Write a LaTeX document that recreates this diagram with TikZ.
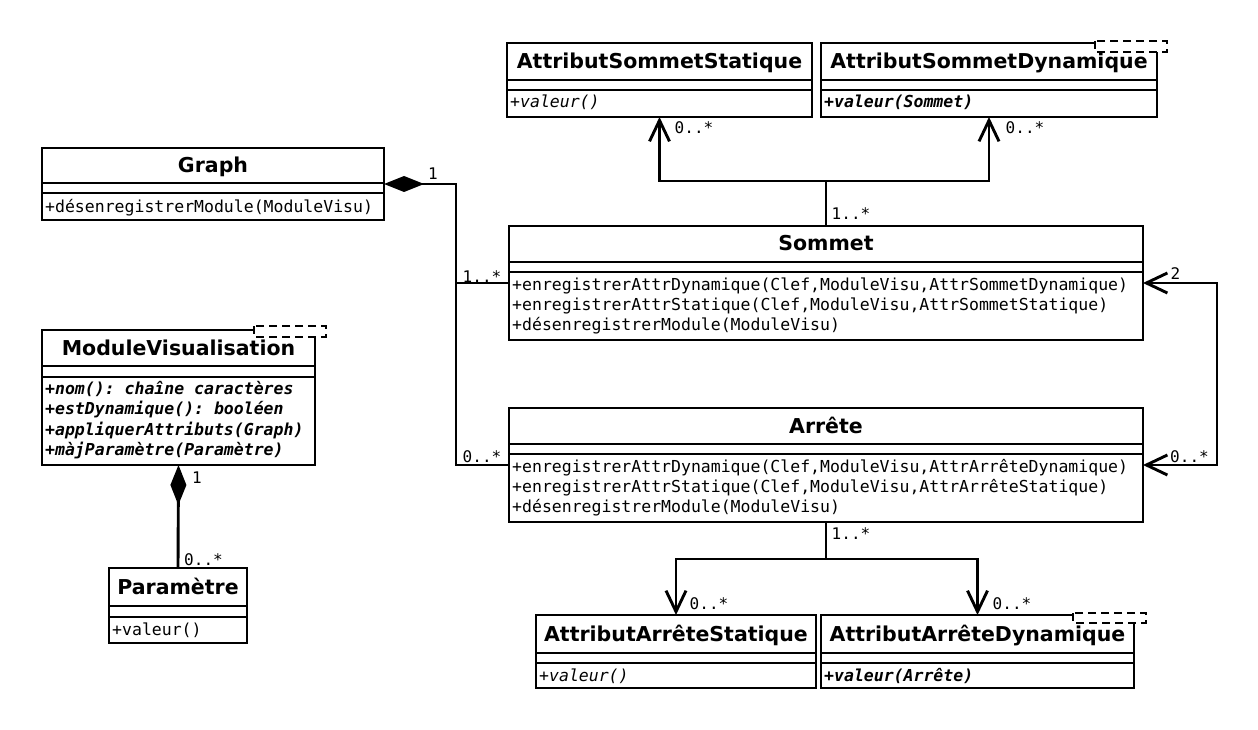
\documentclass[tikz,border=0pt]{standalone}
\usepackage{fontspec}
\setmainfont{DejaVu Sans}
\setmonofont{DejaVu Sans Mono}
\usetikzlibrary{arrows.meta}

\tikzset{
  box/.style={draw, line width=2.9pt, inner sep=0pt, outer sep=0pt, anchor=north west, fill=white},
  sepline/.style={line width=2.9pt},
  tabbox/.style={draw, fill=white, line width=2.7pt, dash pattern=on 8pt off 5pt},
  ttl/.style={font=\fontsize{20.5}{24}\selectfont\bfseries, anchor=base, inner sep=0pt},
  meth/.style={font=\fontsize{16.5}{20}\selectfont\ttfamily, anchor=base west, inner sep=0pt},
  imeth/.style={meth, font=\fontsize{16.5}{20}\selectfont\ttfamily\itshape},
  bimeth/.style={meth, font=\fontsize{16.5}{20}\selectfont\ttfamily\bfseries\itshape},
  mult/.style={font=\fontsize{16}{19}\selectfont\ttfamily, anchor=base, inner sep=0pt},
  conn/.style={line width=2.9pt},
  nav/.style={conn, -{Straight Barb[length=21pt,width=20pt]}},
  binav/.style={conn, {Straight Barb[length=21pt,width=20pt]}-{Straight Barb[length=21pt,width=20pt]}},
  comp/.style={conn, {Diamond[length=40pt,width=16pt]}-},
}

% #1 name, #2 x1, #3 y1, #4 x2, #5 y2, #6 sep1, #7 sep2
\newcommand\umlclassbox[7]{%
  \node[box, minimum width={#4-#2}, minimum height={#5-#3}] (#1) at (#2,#3) {};
  \draw[sepline] (#2,#6) -- (#4,#6) (#2,#7) -- (#4,#7);
}

\begin{document}
\begin{tikzpicture}[x=1pt, y=-1pt]
\fill[white] (0,0) rectangle (1258,730);
\useasboundingbox (0,0) rectangle (1258,730);

% ---------- classes ----------
\umlclassbox{ass}{507}{43}{812}{117}{80}{90}
\node[ttl] (ass-t) at (659.5,69) {AttributSommetStatique};
\node[imeth] (ass-m1) at (510,108) {+valeur()};

\umlclassbox{asd}{821}{43}{1157}{117}{80}{90}
\draw[tabbox] (1095,41) rectangle (1167,52);
\node[ttl] (asd-t) at (989,69) {AttributSommetDynamique};
\node[bimeth] (asd-m1) at (824,108) {+valeur(Sommet)};

\umlclassbox{graph}{42}{148}{384}{220}{183}{193}
\node[ttl] (graph-t) at (213,173) {Graph};
\node[meth] (graph-m1) at (45,212) {+désenregistrerModule(ModuleVisu)};

\umlclassbox{sommet}{509}{226}{1143}{340}{262}{272}
\node[ttl] (sommet-t) at (826,251) {Sommet};
\node[meth] (sommet-m1) at (512,290) {+enregistrerAttrDynamique(Clef,ModuleVisu,AttrSommetDynamique)};
\node[meth] (sommet-m2) at (512,310) {+enregistrerAttrStatique(Clef,ModuleVisu,AttrSommetStatique)};
\node[meth] (sommet-m3) at (512,330) {+désenregistrerModule(ModuleVisu)};

\umlclassbox{arrete}{509}{408}{1143}{522}{444}{454}
\node[ttl] (arrete-t) at (826,433) {Arrête};
\node[meth] (arrete-m1) at (512,472) {+enregistrerAttrDynamique(Clef,ModuleVisu,AttrArrêteDynamique)};
\node[meth] (arrete-m2) at (512,492) {+enregistrerAttrStatique(Clef,ModuleVisu,AttrArrêteStatique)};
\node[meth] (arrete-m3) at (512,512) {+désenregistrerModule(ModuleVisu)};

\umlclassbox{mv}{42}{330}{315}{465}{366}{377}
\draw[tabbox] (254,326) rectangle (326,337);
\node[ttl] (mv-t) at (178.5,355) {ModuleVisualisation};
\node[bimeth] (mv-m1) at (45,394) {+nom(): chaîne caractères};
\node[bimeth] (mv-m2) at (45,414.5) {+estDynamique(): booléen};
\node[bimeth] (mv-m3) at (45,435) {+appliquerAttributs(Graph)};
\node[bimeth] (mv-m4) at (45,455.5) {+màjParamètre(Paramètre)};

\umlclassbox{param}{109}{568}{247}{643}{606}{617}
\node[ttl] (param-t) at (178,594) {Paramètre};
\node[meth] (param-m1) at (112,635) {+valeur()};

\umlclassbox{aas}{536}{615}{816}{688}{653}{663}
\node[ttl] (aas-t) at (676,641) {AttributArrêteStatique};
\node[imeth] (aas-m1) at (539,681) {+valeur()};

\umlclassbox{aad}{821}{615}{1134}{688}{653}{663}
\draw[tabbox] (1073,613) rectangle (1146,623);
\node[ttl] (aad-t) at (977.5,641) {AttributArrêteDynamique};
\node[bimeth] (aad-m1) at (824,681) {+valeur(Arrête)};

% ---------- connectors ----------
\coordinate (gj) at (456,184);
\draw[comp] (graph.east) -- (gj) |- (sommet.west);
\draw[conn] (gj) |- (arrete.west);

\draw[comp] (mv.south) -- (param.north);

\coordinate (sj) at (826,181);
\draw[nav] (sommet.north) -- (sj) -| (ass.south);
\draw[nav] (sj) -| (asd.south);

\coordinate (aj) at (826,559);
\draw[nav] (arrete.south) -- (aj) -| (aas.north);
\draw[nav] (aj) -| (aad.north);

\coordinate (rj) at (1217,283);
\draw[binav] (sommet.east) -- (rj) |- (arrete.east);

% ---------- multiplicities ----------
\node[mult] (m-g1) at (433,180) {1};
\node[mult] (m-gs) at (482,282) {1..*};
\node[mult] (m-ga) at (482,462) {0..*};
\node[mult] (m-mv) at (197,483) {1};
\node[mult] (m-pa) at (203.5,565) {0..*};
\node[mult] (m-ass) at (694,134) {0..*};
\node[mult] (m-asd) at (1025,134) {0..*};
\node[mult] (m-st) at (851,219) {1..*};
\node[mult] (m-s2) at (1175.5,279) {2};
\node[mult] (m-ar) at (1189.5,462) {0..*};
\node[mult] (m-ab) at (851,539) {1..*};
\node[mult] (m-aas) at (709,609) {0..*};
\node[mult] (m-aad) at (1012,609) {0..*};
\end{tikzpicture}
\end{document}
